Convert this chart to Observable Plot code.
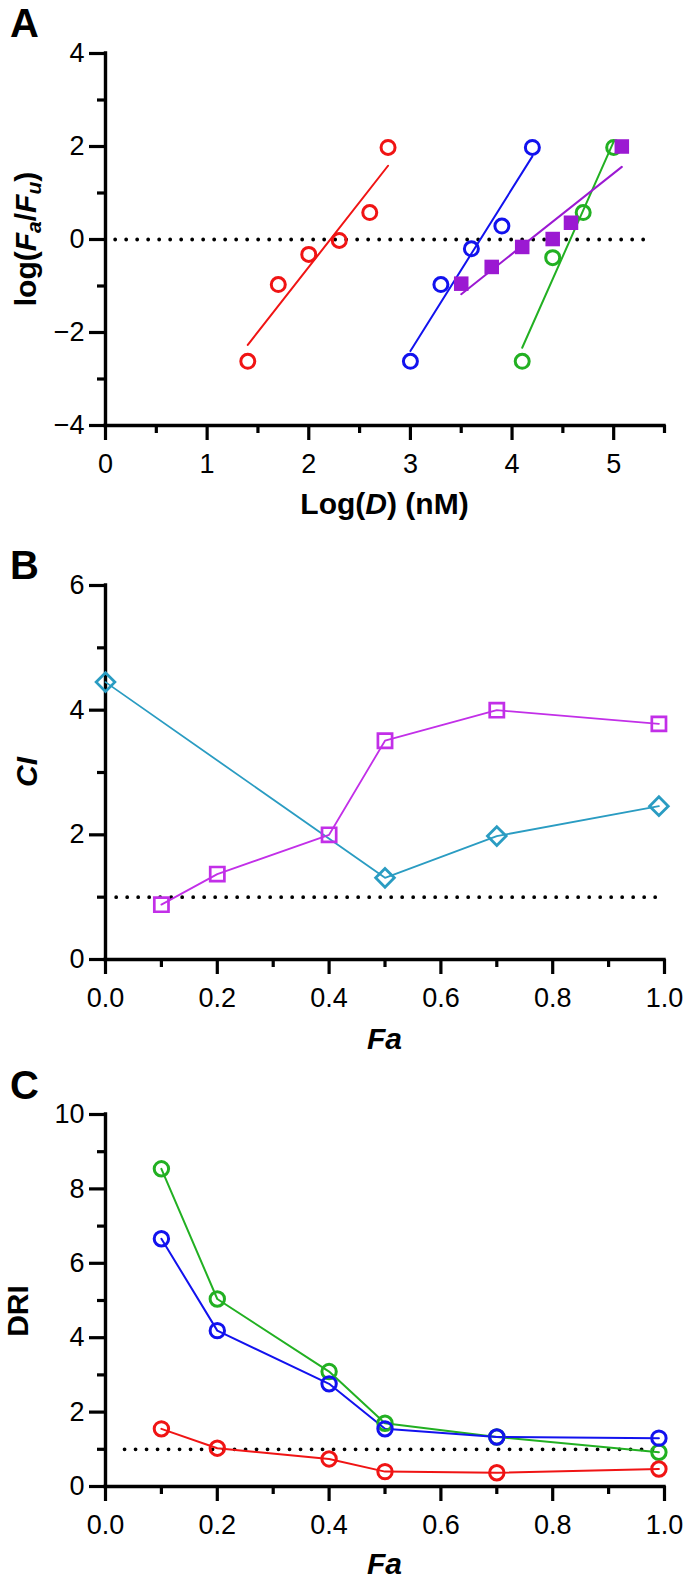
<!DOCTYPE html>
<html>
<head>
<meta charset="utf-8">
<script src="https://cdn.jsdelivr.net/npm/d3@7"></script>
<script src="https://cdn.jsdelivr.net/npm/@observablehq/plot@0.6"></script>
<style>
  html, body { margin:0; padding:0; background:#fff; }
  #wrap { position:relative; width:685px; height:1581px; overflow:hidden; font-family:"Liberation Sans", Arial, sans-serif; color:#000; }
  .panel { position:absolute; left:0; width:685px; }
  .panel svg { display:block; }
  .lbl { position:absolute; white-space:nowrap; line-height:1; font-weight:bold; }
  .letter { font-size:40px; line-height:0.9; }
  .xt, .yt { font-size:30px; }
  .rot { transform: translate(-50%,-50%) rotate(-90deg); }
  sub { font-size:70%; vertical-align:-0.25em; line-height:0; }
</style>
</head>
<body>
<div id="wrap"></div>
<script>
// ---------------- Panel A: median-effect plot ----------------
const seriesA = ["red", "blue", "green", "purple"];
const logD_red    = [1.4, 1.7, 2.0, 2.3, 2.6, 2.78];
const logF_red    = [-2.62, -0.97, -0.32, -0.02, 0.58, 1.98];
const logD_blue   = [3.0, 3.3, 3.6, 3.9, 4.2];
const logF_blue   = [-2.62, -0.97, -0.20, 0.29, 1.98];
const logD_green  = [4.1, 4.4, 4.7, 5.0];
const logF_green  = [-2.62, -0.39, 0.58, 1.98];
const logD_purple = [3.5, 3.8, 4.1, 4.4, 4.58, 5.08];
const logF_purple = [-0.95, -0.59, -0.16, 0.01, 0.36, 2.0];
const xTicksA = [0, 1, 2, 3, 4, 5];
const xMinorA = [0.5, 1.5, 2.5, 3.5, 4.5, 5.5];
const yTicksA = [-4, -2, 0, 2, 4];
const yMinorA = [-3, -1, 1, 3];
const refA = [{y: 0, x1: 0.1, x2: 5.4}];

// ---------------- Panel B: combination index ----------------
const fa_mag   = [0.1, 0.2, 0.4, 0.5, 0.7, 0.99];
const ci_mag   = [0.88, 1.37, 2.0, 3.51, 4.0, 3.78];
const fa_teal  = [0.0, 0.5, 0.7, 0.99];
const ci_teal  = [4.45, 1.31, 1.98, 2.46];
const xTicksB = [0, 0.2, 0.4, 0.6, 0.8, 1.0];
const xMinorB = [0.1, 0.3, 0.5, 0.7, 0.9];
const yTicksB = [0, 2, 4, 6];
const yMinorB = [1, 3, 5];
const refB = [{y: 1, x1: 0.02, x2: 0.985}];

// ---------------- Panel C: dose reduction index ----------------
const fa_C      = [0.1, 0.2, 0.4, 0.5, 0.7, 0.99];
const dri_green = [8.54, 5.04, 3.09, 1.70, 1.33, 0.92];
const dri_blue  = [6.66, 4.19, 2.76, 1.55, 1.33, 1.30];
const dri_red   = [1.55, 1.03, 0.74, 0.40, 0.37, 0.47];
const yTicksC = [0, 2, 4, 6, 8, 10];
const yMinorC = [1, 3, 5, 7, 9];
const refC = [{y: 1, x1: 0.035, x2: 0.984}];

const colors = {
  red: "#f01414", blue: "#1212ee", green: "#22b022", purple: "#9b19d2",
  magenta: "#c22fe8", teal: "#2a9cc2"
};

const zip = (xs, ys) => xs.map((x, i) => ({x, y: ys[i]}));

function axes(xDom, yDom, xMaj, xMin, yMaj, yMin, xFmt) {
  return [
    Plot.axisX({ticks: xMaj, tickSize: 15, tickPadding: 13, strokeWidth: 3.2, tickFormat: xFmt, label: null}),
    Plot.axisX({ticks: xMin, tickSize: 8, strokeWidth: 3.2, tickFormat: () => "", label: null}),
    Plot.axisY({ticks: yMaj, tickSize: 16, tickPadding: 5, strokeWidth: 3.2, tickFormat: d3.format("d"), label: null}),
    Plot.axisY({ticks: yMin, tickSize: 8, strokeWidth: 3.2, tickFormat: () => "", label: null}),
    Plot.ruleX([xDom[0]], {strokeWidth: 3.4, strokeLinecap: "square"}),
    Plot.ruleY([yDom[0]], {strokeWidth: 3.4, strokeLinecap: "square"})
  ];
}

const dotted = (ref) => Plot.ruleY(ref, {y: "y", x1: "x1", x2: "x2", stroke: "black",
  strokeWidth: 3.8, strokeDasharray: "0,11", strokeLinecap: "round"});

function makePlot(height, mt, mb, xDom, yDom, marks) {
  return Plot.plot({
    width: 685, height,
    marginLeft: 105, marginRight: 21, marginTop: mt, marginBottom: mb,
    x: {domain: xDom}, y: {domain: yDom},
    style: {fontFamily: "'Liberation Sans', Arial, sans-serif", fontSize: "27px", color: "black", background: "white", overflow: "visible"},
    marks
  });
}

// Panel A plot
const xDomA = [0, 5.5], yDomA = [-4, 4];
const dataA = {
  red: zip(logD_red, logF_red), blue: zip(logD_blue, logF_blue),
  green: zip(logD_green, logF_green), purple: zip(logD_purple, logF_purple)
};
const marksA = [
  ...axes(xDomA, yDomA, xTicksA, xMinorA, yTicksA, yMinorA, d3.format("d")),
  dotted(refA),
  ...seriesA.map(s => Plot.linearRegressionY(dataA[s], {x: "x", y: "y", ci: 0, stroke: colors[s], strokeWidth: 2})),
  ...["red", "blue", "green"].map(s => Plot.dot(dataA[s], {x: "x", y: "y", symbol: "circle", r: 7, stroke: colors[s], strokeWidth: 3, fill: "none"})),
  Plot.dot(dataA.purple, {x: "x", y: "y", symbol: "square", r: 8.2, fill: colors.purple, stroke: "none"})
];
const plotA = makePlot(520, 53, 95, xDomA, yDomA, marksA);

// Panel B plot
const xDomB = [0, 1], yDomB = [0, 6];
const marksB = [
  ...axes(xDomB, yDomB, xTicksB, xMinorB, yTicksB, yMinorB, d3.format(".1f")),
  dotted(refB),
  Plot.line(zip(fa_teal, ci_teal), {x: "x", y: "y", stroke: colors.teal, strokeWidth: 1.8}),
  Plot.line(zip(fa_mag, ci_mag), {x: "x", y: "y", stroke: colors.magenta, strokeWidth: 1.8}),
  Plot.dot(zip(fa_teal, ci_teal), {x: "x", y: "y", symbol: "diamond2", r: 8.4, stroke: colors.teal, strokeWidth: 2.8, fill: "none"}),
  Plot.dot(zip(fa_mag, ci_mag), {x: "x", y: "y", symbol: "square", r: 8.0, stroke: colors.magenta, strokeWidth: 2.7, fill: "none"})
];
const plotB = makePlot(540, 65, 101, xDomB, yDomB, marksB);

// Panel C plot
const xDomC = [0, 1], yDomC = [0, 10];
const seriesC = [["green", dri_green], ["blue", dri_blue], ["red", dri_red]];
const marksC = [
  ...axes(xDomC, yDomC, xTicksB, xMinorB, yTicksC, yMinorC, d3.format(".1f")),
  dotted(refC),
  ...seriesC.map(([s, v]) => Plot.line(zip(fa_C, v), {x: "x", y: "y", stroke: colors[s], strokeWidth: 2})),
  ...seriesC.map(([s, v]) => Plot.dot(zip(fa_C, v), {x: "x", y: "y", symbol: "circle", r: 7.2, stroke: colors[s], strokeWidth: 3, fill: "none"}))
];
const plotC = makePlot(521, 54, 95, xDomC, yDomC, marksC);

// ---------------- assemble ----------------
const wrap = document.getElementById("wrap");
function addPanel(plot, top) {
  const d = document.createElement("div");
  d.className = "panel";
  d.style.top = top + "px";
  d.appendChild(plot);
  wrap.appendChild(d);
}
addPanel(plotA, 0);
addPanel(plotB, 520);
addPanel(plotC, 1060);

// text labels (baseline-positioned); baseline offset = (lineHeight/2 + 0.3465) em
function label(html, cls, x, baseline, fs, center, lh = 1) {
  const d = document.createElement("div");
  d.className = "lbl " + cls;
  d.innerHTML = html;
  d.style.left = x + "px";
  d.style.top = (baseline - (lh / 2 + 0.3465) * fs) + "px";
  if (center) d.style.transform = "translateX(-50%)";
  wrap.appendChild(d);
}
function ylabel(html, cx, cy) {
  const d = document.createElement("div");
  d.className = "lbl yt rot";
  d.innerHTML = html;
  d.style.left = cx + "px";
  d.style.top = cy + "px";
  wrap.appendChild(d);
}
label("A", "letter", 10, 37, 40, false, 0.9);
label("B", "letter", 10, 579, 40, false, 0.9);
label("C", "letter", 10, 1099, 40, false, 0.9);

label("Log(<i>D</i>) (nM)", "xt", 384.5, 514, 30, true);
label("<i>Fa</i>", "xt", 384.5, 1049, 30, true);
label("<i>Fa</i>", "xt", 384.5, 1574, 30, true);

ylabel("log(<i>F</i><sub><i>a</i></sub>/<i>F</i><sub><i>u</i></sub>)", 26, 239);
ylabel("<i>CI</i>", 27, 772);
ylabel("DRI", 18, 1311);
</script>
</body>
</html>
